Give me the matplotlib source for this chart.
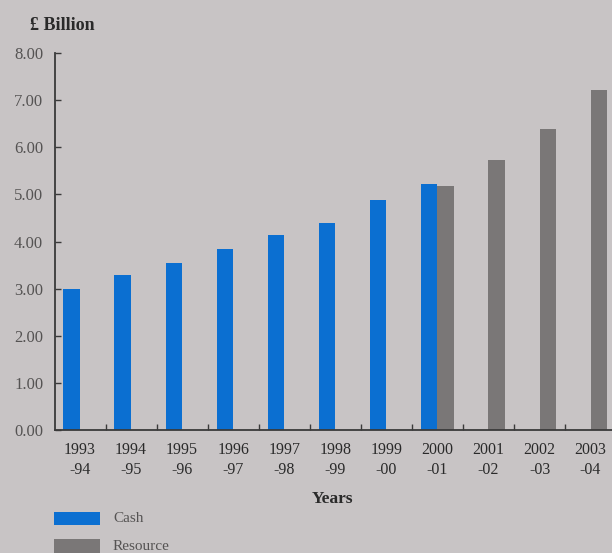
import matplotlib
matplotlib.use("Agg")
import matplotlib.pyplot as plt
from matplotlib.patches import Rectangle
import numpy as np

years_top = ["1993", "1994", "1995", "1996", "1997", "1998", "1999", "2000", "2001", "2002", "2003"]
years_bottom = ["-94", "-95", "-96", "-97", "-98", "-99", "-00", "-01", "-02", "-03", "-04"]
cash = [3.00, 3.29, 3.55, 3.84, 4.13, 4.40, 4.88, 5.21, None, None, None]
resource = [None, None, None, None, None, None, None, 5.17, 5.74, 6.38, 7.21]
y_ticks = [0, 1, 2, 3, 4, 5, 6, 7, 8]

BG = "#c8c4c5"
BLUE = "#0b6fd1"
GREY = "#7a7777"
TEXT = "#2a2a2a"
TICK_TEXT = "#555353"

plt.rcParams["font.family"] = ["Liberation Serif", "DejaVu Serif"]

fig = plt.figure(figsize=(6.12, 5.53), dpi=100, facecolor=BG)
ax = fig.add_axes([55 / 612, 1 - 430 / 553, 1 - 55 / 612, (430 - 53) / 553])
ax.set_facecolor(BG)

x = np.arange(len(years_top))
w = 0.325
for i, v in enumerate(cash):
    if v is not None:
        ax.bar(x[i] - w / 2, v, width=w, color=BLUE, linewidth=0)
for i, v in enumerate(resource):
    if v is not None:
        ax.bar(x[i] + w / 2, v, width=w, color=GREY, linewidth=0)

ax.set_ylim(0, 8)
ax.set_xlim(-0.49, 10.42)

for s in ["top", "right"]:
    ax.spines[s].set_visible(False)
for s in ["left", "bottom"]:
    ax.spines[s].set_color("#3a3a3a")
    ax.spines[s].set_linewidth(1.3)

ax.set_yticks(y_ticks)
ax.set_yticklabels([f"{t:.2f}" for t in y_ticks])
ax.tick_params(axis="y", direction="in", length=4, width=1, color="#3a3a3a",
               pad=8.5, labelsize=12, labelcolor=TICK_TEXT)

# category labels at centres, small boundary ticks between categories
ax.set_xticks(x)
ax.set_xticklabels([f"{a}\n{b}" for a, b in zip(years_top, years_bottom)],
                   linespacing=1.25)
ax.tick_params(axis="x", which="major", length=0, pad=9, labelsize=11.5,
               labelcolor=TEXT)
ax.set_xticks(x[:-1] + 0.5, minor=True)
ax.tick_params(axis="x", which="minor", direction="in", length=4, width=1,
               color="#3a3a3a")

fig.text(62 / 612, 1 - 25 / 553, "£ Billion", ha="center", va="center",
         fontsize=13, fontweight="bold", color=TEXT)
fig.text(333 / 612, 1 - 499 / 553, "Years", ha="center", va="center",
         fontsize=12.5, fontweight="bold", color=TEXT)

# legend
fig.patches.append(Rectangle((54 / 612, 1 - 525 / 553), 46 / 612, 13 / 553,
                             transform=fig.transFigure, color=BLUE, lw=0))
fig.text(113 / 612, 1 - 519 / 553, "Cash", ha="left", va="center",
         fontsize=11, color=TICK_TEXT)
fig.patches.append(Rectangle((54 / 612, 1 - 553 / 553), 46 / 612, 14 / 553,
                             transform=fig.transFigure, color=GREY, lw=0))
fig.text(113 / 612, 1 - 547 / 553, "Resource", ha="left", va="center",
         fontsize=11, color=TICK_TEXT)

fig.savefig("out.png", dpi=100, facecolor=BG)
